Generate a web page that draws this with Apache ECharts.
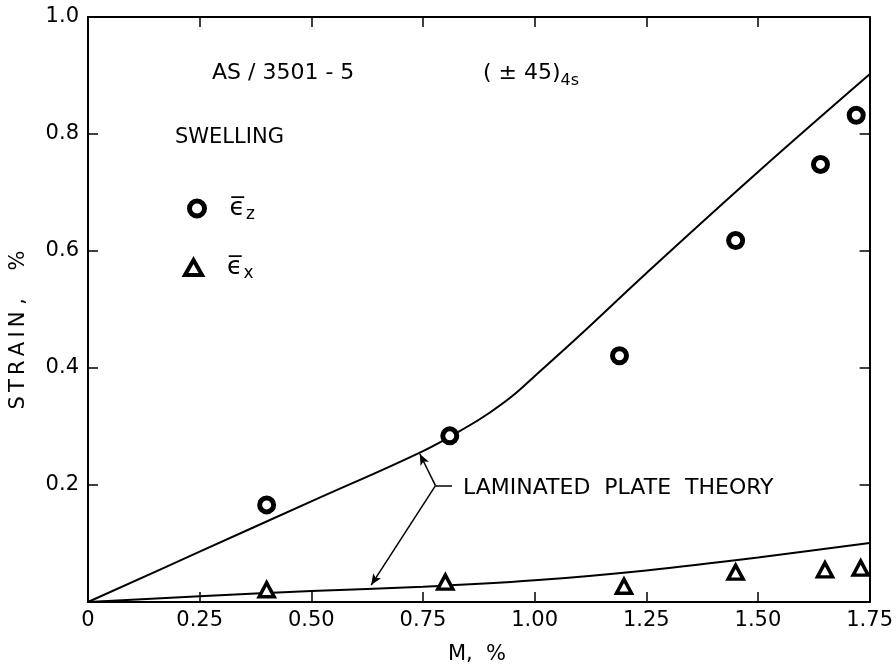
<!doctype html>
<html lang="en">
<head>
    <meta charset="UTF-8">
    <title>AS/3501-5 swelling strain</title>
    <script src="https://cdn.jsdelivr.net/npm/echarts@6/dist/echarts.min.js"></script>
    <style>
        html, body { margin: 0; padding: 0; background: #fff; }
        #main { width: 896px; height: 672px; }
    </style>
</head>
<body>
<div id="main"></div>
<script>
    // moisture content M (%) vs strain (%)
    var measuredZ = [[0.40, 0.166], [0.81, 0.284], [1.19, 0.421], [1.45, 0.618], [1.64, 0.748], [1.72, 0.832]];
    var measuredX = [[0.40, 0.021], [0.80, 0.034], [1.20, 0.027], [1.45, 0.051], [1.65, 0.055], [1.73, 0.058]];
    // laminated plate theory curves
    var theoryZ = [[0, 0], [0.25, 0.086], [0.5, 0.172], [0.75, 0.258], [0.85, 0.300], [0.90, 0.324], [0.95, 0.352],
        [1.0, 0.386], [1.1, 0.455], [1.25, 0.562], [1.5, 0.735], [1.75, 0.902]];
    var theoryX = [[0, 0], [0.25, 0.010], [0.5, 0.019], [0.75, 0.026], [1.0, 0.037], [1.25, 0.054], [1.5, 0.076], [1.75, 0.101]];
    // arrow annotation: bracket point, the two arrow tips, end of leader line
    var bracketPt = [0.778, 0.199];
    var tipUpper = [0.743, 0.253];
    var tipLower = [0.634, 0.029];
    var leaderEnd = [0.815, 0.199];

    var font = 'DejaVu Sans';
    var myChart = echarts.init(document.getElementById('main'));

    function axisBase(extra) {
        var a = {
            type: 'value',
            axisLine: { show: true, onZero: false, lineStyle: { color: '#000', width: 2 } },
            axisTick: { show: true, inside: true, length: 10, lineStyle: { color: '#000', width: 1.5 } },
            splitLine: { show: false },
            axisLabel: { show: false }
        };
        for (var k in extra) a[k] = extra[k];
        return a;
    }

    var legendText = {
        color: '#000', padding: [0, 0, 0, 20],
        rich: {
            e: { fontFamily: font, fontSize: 25, color: '#000' },
            s: { fontFamily: font, fontSize: 17, color: '#000', padding: [13, 0, 0, 1] }
        }
    };

    var option = {
        animation: false,
        backgroundColor: '#fff',
        grid: { left: 88, right: 22, top: 17, bottom: 70 },
        xAxis: [
            axisBase({
                position: 'bottom', min: 0, max: 1.75, interval: 0.25,
                axisLabel: {
                    show: true, color: '#000', fontFamily: font, fontSize: 21, margin: 8,
                    formatter: function (v) { return v === 0 ? '0' : v.toFixed(2); }
                }
            }),
            axisBase({ position: 'top', min: 0, max: 1.75, interval: 0.25 })
        ],
        yAxis: [
            axisBase({
                position: 'left', min: 0, max: 1.0, interval: 0.2,
                axisLabel: {
                    show: true, color: '#000', fontFamily: font, fontSize: 21, margin: 9,
                    formatter: function (v) { return v === 0 ? '' : v.toFixed(1); }
                }
            }),
            axisBase({ position: 'right', min: 0, max: 1.0, interval: 0.2 })
        ],
        legend: [
            {
                data: ['ez'], left: 182, top: 191, itemWidth: 15, itemHeight: 15,
                itemStyle: { color: '#fff', borderColor: '#000', borderWidth: 5 },
                formatter: function () { return '{e|\u03F5\u0305}{s|z}'; },
                textStyle: legendText
            },
            {
                data: ['ex'], left: 178, top: 250, itemWidth: 17, itemHeight: 15,
                itemStyle: { color: '#fff', borderColor: '#000', borderWidth: 4 },
                formatter: function () { return '{e|\u03F5\u0305}{s|x}'; },
                textStyle: legendText
            }
        ],
        graphic: [
            { type: 'text', style: { text: 'AS / 3501 - 5', x: 212, y: 73, font: '22px "DejaVu Sans"', fill: '#000', verticalAlign: 'middle' } },
            { type: 'text', style: {
                text: '( \u00B1 45){s|4s}', x: 483, y: 73, font: '22px "DejaVu Sans"', fill: '#000', verticalAlign: 'middle',
                rich: { s: { fontSize: 16, fontFamily: font, padding: [15, 0, 0, 0] } }
            } },
            { type: 'text', style: { text: 'SWELLING', x: 175, y: 138, font: '21px "DejaVu Sans"', fill: '#000', verticalAlign: 'middle' } },
            { type: 'text', style: { text: 'LAMINATED  PLATE  THEORY', x: 463, y: 488, font: '22px "DejaVu Sans"', fill: '#000', verticalAlign: 'middle' } },
            { type: 'text', x: 19, y: 330, rotation: Math.PI / 2,
              style: { text: 'S\u2009T\u2009R\u2009A\u2009I\u2009N ,\u2003 %', font: '21px "DejaVu Sans"', fill: '#000', align: 'center', verticalAlign: 'middle' } },
            { type: 'text', style: { text: 'M,  %', x: 477, y: 655, font: '21px "DejaVu Sans"', fill: '#000', align: 'center', verticalAlign: 'middle' } }
        ],
        series: [
            {
                name: 'theoryZ', type: 'line', data: theoryZ, smooth: 0.4, showSymbol: false,
                lineStyle: { color: '#000', width: 2 }, z: 2,
                markLine: {
                    silent: true, symbol: ['none', 'arrow'], symbolSize: [7, 11],
                    label: { show: false },
                    lineStyle: { color: '#000', width: 1.5, type: 'solid' },
                    data: [
                        [{ coord: bracketPt }, { coord: tipUpper }],
                        [{ coord: bracketPt }, { coord: tipLower }],
                        [{ coord: bracketPt }, { coord: leaderEnd, symbol: 'none' }]
                    ]
                }
            },
            {
                name: 'theoryX', type: 'line', data: theoryX, smooth: 0.3, showSymbol: false,
                lineStyle: { color: '#000', width: 2 }, z: 2
            },
            {
                name: 'ez', type: 'scatter', data: measuredZ, symbol: 'circle', symbolSize: 14,
                itemStyle: { color: '#fff', borderColor: '#000', borderWidth: 5, opacity: 1 }, z: 3
            },
            {
                name: 'ex', type: 'scatter', data: measuredX, symbol: 'triangle', symbolSize: [15, 14],
                itemStyle: { color: '#fff', borderColor: '#000', borderWidth: 3.5, opacity: 1 }, z: 3
            }
        ]
    };
    myChart.setOption(option);
</script>
</body>
</html>
